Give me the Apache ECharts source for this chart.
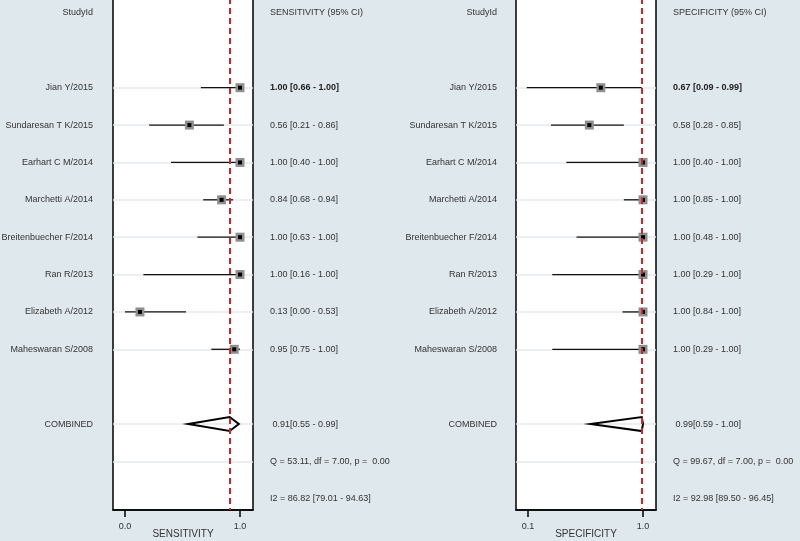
<!DOCTYPE html>
<html>
<head>
<meta charset="utf-8">
<script src="https://cdn.jsdelivr.net/npm/echarts@6/dist/echarts.min.js"></script>
<style>
  html, body { margin: 0; padding: 0; background: #dfe8ed; }
  #chart { width: 800px; height: 541px; }
</style>
</head>
<body>
<div id="chart"></div>
<script>
// study names (rows 2..9)
const studies = ['Jian Y/2015', 'Sundaresan T K/2015', 'Earhart C M/2014', 'Marchetti A/2014',
  'Breitenbuecher F/2014', 'Ran R/2013', 'Elizabeth A/2012', 'Maheswaran S/2008']

// sensitivity with 95% CI
const sens = [1.00, 0.56, 1.00, 0.84, 1.00, 1.00, 0.13, 0.95]
const sensLo = [0.66, 0.21, 0.40, 0.68, 0.63, 0.16, 0.00, 0.75]
const sensHi = [1.00, 0.86, 1.00, 0.94, 1.00, 1.00, 0.53, 1.00]
const sensCombined = [0.91, 0.55, 0.99] // est, lo, hi
const sensQ = 'Q = 53.11, df = 7.00, p =  0.00'
const sensI2 = 'I2 = 86.82 [79.01 - 94.63]'

// specificity with 95% CI
const spec = [0.67, 0.58, 1.00, 1.00, 1.00, 1.00, 1.00, 1.00]
const specLo = [0.09, 0.28, 0.40, 0.85, 0.48, 0.29, 0.84, 0.29]
const specHi = [0.99, 0.85, 1.00, 1.00, 1.00, 1.00, 1.00, 1.00]
const specCombined = [0.99, 0.59, 1.00]
const specQ = 'Q = 99.67, df = 7.00, p =  0.00'
const specI2 = 'I2 = 92.98 [89.50 - 96.45]'

// row layout: 0 header, 2..9 studies, 11 combined, 12 Q, 13 I2
const firstStudyRow = 2
const combinedRow = 11
const rows = [0, 1, 2, 3, 4, 5, 6, 7, 8, 9, 10, 11, 12, 13]
const gridRows = [2, 3, 4, 5, 6, 7, 8, 9, 11, 12]

const fmt = v => v.toFixed(2)

function leftLabels(title) {
  const out = []
  out[0] = title
  studies.forEach((s, i) => { out[firstStudyRow + i] = s })
  out[combinedRow] = 'COMBINED'
  return out
}

function rightLabels(header, est, lo, hi, comb, q, i2) {
  const out = []
  out[0] = header
  est.forEach((v, i) => {
    const t = fmt(v) + ' [' + fmt(lo[i]) + ' - ' + fmt(hi[i]) + ']'
    out[firstStudyRow + i] = i === 0 ? '{b|' + t + '}' : t
  })
  out[combinedRow] = ' ' + fmt(comb[0]) + '[' + fmt(comb[1]) + ' - ' + fmt(comb[2]) + ']'
  out[combinedRow + 1] = q
  out[combinedRow + 2] = i2
  return out
}

const sensLeft = leftLabels('StudyId')
const specLeft = leftLabels('StudyId')
const sensRight = rightLabels('SENSITIVITY (95% CI)', sens, sensLo, sensHi, sensCombined, sensQ, sensI2)
const specRight = rightLabels('SPECIFICITY (95% CI)', spec, specLo, specHi, specCombined, specQ, specI2)

function studyData(est, lo, hi) {
  return est.map((v, i) => [v, lo[i], hi[i], firstStudyRow + i])
}

function renderStudy(params, api) {
  const y = api.value(3)
  const a = api.coord([api.value(1), y])
  const b = api.coord([api.value(2), y])
  const c = api.coord([api.value(0), y])
  return {
    type: 'group',
    children: [
      { type: 'line', shape: { x1: a[0], y1: a[1], x2: b[0], y2: b[1] }, style: { stroke: '#111', lineWidth: 1.3 } },
      { type: 'rect', shape: { x: c[0] - 4.5, y: c[1] - 4.5, width: 9, height: 9 }, style: { fill: '#8f8f8f' } },
      { type: 'rect', shape: { x: c[0] - 2, y: c[1] - 2, width: 4, height: 4 }, style: { fill: '#000' } }
    ]
  }
}

function renderDiamond(params, api) {
  const y = api.value(3)
  const lo = api.coord([api.value(1), y])
  const hi = api.coord([api.value(2), y])
  const c = api.coord([api.value(0), y])
  const h = 7
  return {
    type: 'polygon',
    shape: { points: [[lo[0], lo[1]], [c[0], c[1] - h], [hi[0], hi[1]], [c[0], c[1] + h]] },
    style: { fill: 'none', stroke: '#000', lineWidth: 2 }
  }
}

const textStyle = { color: '#333', fontSize: 9, fontFamily: 'Liberation Sans, Arial, sans-serif' }

function xAxisFor(gridIndex, min, max, ticks, name) {
  return {
    type: 'value',
    gridIndex: gridIndex,
    position: 'bottom',
    min: min,
    max: max,
    name: name,
    nameLocation: 'middle',
    nameGap: 19,
    nameMoveOverlap: false,
    nameTextStyle: { color: '#333', fontSize: 10, fontFamily: 'Liberation Sans, Arial, sans-serif' },
    splitLine: { show: false },
    axisLine: { show: true, onZero: false, lineStyle: { color: '#000', width: 1.5 } },
    axisTick: { show: true, length: 7, customValues: ticks, lineStyle: { color: '#000', width: 1.5 } },
    axisLabel: Object.assign({ customValues: ticks, margin: 12, formatter: v => v.toFixed(1) }, textStyle)
  }
}

function yAxisFor(gridIndex, position, labels, margin) {
  return {
    type: 'value',
    gridIndex: gridIndex,
    position: position,
    inverse: true,
    min: -0.4,
    max: 13.3,
    axisLine: { show: false, onZero: false },
    axisTick: { show: false, customValues: gridRows },
    splitLine: { show: position === 'left', lineStyle: { color: '#e4eaee', width: 1.5 } },
    axisLabel: Object.assign({
      customValues: rows,
      margin: margin,
      align: position === 'left' ? 'right' : 'left',
      formatter: v => labels[Math.round(v)] || '',
      rich: { b: { fontWeight: 'bold', color: '#222', fontSize: 9 } }
    }, textStyle)
  }
}

const refLine = v => ({
  silent: true,
  symbol: 'none',
  label: { show: false },
  lineStyle: { color: '#c8282a', type: [6, 4], width: 2 },
  data: [{ xAxis: v }]
})

const gridBase = {
  top: -2, bottom: 31, show: true, backgroundColor: '#fff',
  borderColor: '#000', borderWidth: 1.5, containLabel: false, outerBoundsMode: 'none'
}

const chart = echarts.init(document.getElementById('chart'))
chart.setOption({
  backgroundColor: '#dfe8ed',
  animation: false,
  grid: [
    Object.assign({ left: 113, width: 140 }, gridBase),
    Object.assign({ left: 516, width: 140 }, gridBase)
  ],
  xAxis: [
    xAxisFor(0, -0.1043, 1.113, [0, 1], 'SENSITIVITY'),
    xAxisFor(1, 0.0061, 1.1017, [0.1, 1], 'SPECIFICITY')
  ],
  yAxis: [
    yAxisFor(0, 'left', sensLeft, 20),
    yAxisFor(0, 'right', sensRight, 17),
    yAxisFor(1, 'left', specLeft, 19),
    yAxisFor(1, 'right', specRight, 17)
  ],
  series: [
    {
      type: 'custom', xAxisIndex: 0, yAxisIndex: 0,
      renderItem: renderStudy,
      encode: { x: [0, 1, 2], y: 3 },
      data: studyData(sens, sensLo, sensHi),
      markLine: refLine(sensCombined[0]),
      z: 3
    },
    {
      type: 'custom', xAxisIndex: 0, yAxisIndex: 0,
      renderItem: renderDiamond,
      encode: { x: [0, 1, 2], y: 3 },
      data: [[sensCombined[0], sensCombined[1], sensCombined[2], combinedRow]],
      z: 3
    },
    {
      type: 'custom', xAxisIndex: 1, yAxisIndex: 2,
      renderItem: renderStudy,
      encode: { x: [0, 1, 2], y: 3 },
      data: studyData(spec, specLo, specHi),
      markLine: refLine(specCombined[0]),
      z: 3
    },
    {
      type: 'custom', xAxisIndex: 1, yAxisIndex: 2,
      renderItem: renderDiamond,
      encode: { x: [0, 1, 2], y: 3 },
      data: [[specCombined[0], specCombined[1], specCombined[2], combinedRow]],
      z: 3
    }
  ]
})
</script>
</body>
</html>
